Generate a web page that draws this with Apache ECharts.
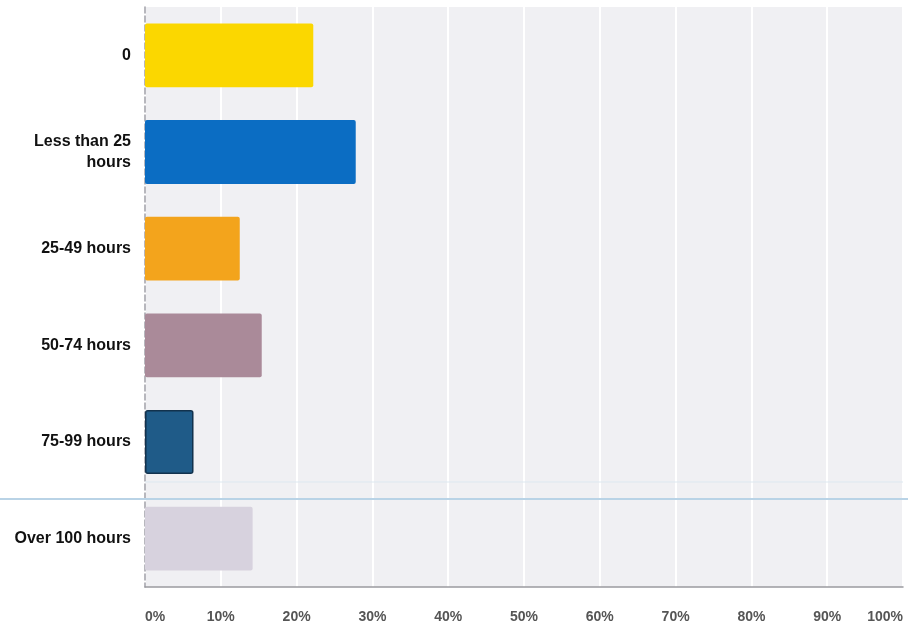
<!DOCTYPE html>
<html>
<head>
<meta charset="utf-8">
<script src="https://cdn.jsdelivr.net/npm/echarts@6/dist/echarts.min.js"></script>
<style>html,body{margin:0;padding:0;background:#fff;}#c{width:908px;height:625px;}</style>
</head>
<body>
<div id="c"></div>
<script>
var categories = ["0", "Less than 25\nhours", "25-49 hours", "50-74 hours", "75-99 hours", "Over 100 hours"];
var values = [22.2, 27.8, 12.5, 15.4, 6.4, 14.2];
var barColors = ["#fbd700", "#0b6dc3", "#f3a41c", "#aa8a99", "#1f5b88", "#d7d2de"];
var tickFormat = "{value}%";

var chart = echarts.init(document.getElementById('c'), null, {renderer: 'canvas'});
chart.setOption({
  animation: false,
  backgroundColor: '#ffffff',
  grid: {left: 145, right: 5, top: 7, bottom: 38, show: true, backgroundColor: '#f0f0f3', borderWidth: 0},
  xAxis: {
    type: 'value', min: 0, max: 100, interval: 10,
    axisLine: {show: true, lineStyle: {color: '#9a9aa0', width: 1.5}},
    axisTick: {show: false},
    splitLine: {show: true, lineStyle: {color: '#ffffff', width: 2}},
    axisLabel: {formatter: tickFormat, color: '#555555', fontWeight: 'bold', fontSize: 14,
      fontFamily: 'Liberation Sans, Arial, sans-serif', margin: 23,
      alignMinLabel: 'left', alignMaxLabel: 'right'}
  },
  yAxis: {
    type: 'category', data: categories, inverse: true,
    axisLine: {show: true, lineStyle: {color: '#a0a0a8', type: 'dashed', width: 1.5}},
    axisTick: {show: false},
    axisLabel: {color: '#111', fontWeight: 'bold', fontSize: 16, lineHeight: 21,
      fontFamily: 'Liberation Sans, Arial, sans-serif', margin: 14, align: 'right'}
  },
  series: [{
    type: 'bar',
    data: values.map(function (v, i) {
      return {value: v, itemStyle: {color: barColors[i], borderColor: i === 4 ? '#12324d' : barColors[i], borderWidth: i === 4 ? 1.5 : 0, borderRadius: 2}};
    }),
    barWidth: '66%'
  }],
  graphic: [{
    type: 'line', silent: true, z: 10,
    shape: {x1: 0, y1: 499, x2: 908, y2: 499},
    style: {stroke: '#b9d3e6', lineWidth: 2}
  }, {
    type: 'line', silent: true, z: 10,
    shape: {x1: 145, y1: 482, x2: 903, y2: 482},
    style: {stroke: '#dde8f0', lineWidth: 1}
  }]
});
</script>
</body>
</html>
